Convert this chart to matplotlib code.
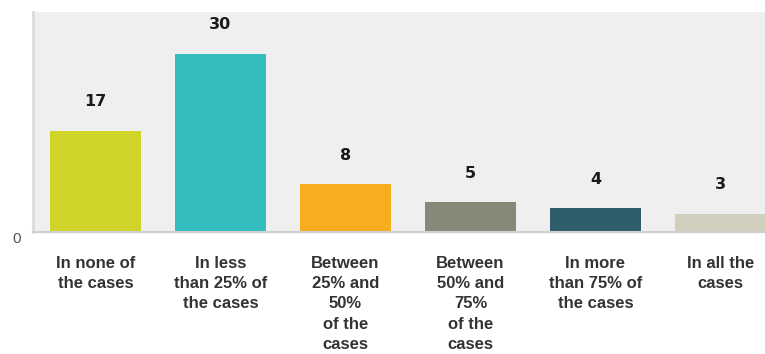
import matplotlib.pyplot as plt

# Chart data
categories = ["In none of\nthe cases", "In less\nthan 25% of\nthe cases",
              "Between\n25% and\n50%\nof the\ncases", "Between\n50% and\n75%\nof the\ncases",
              "In more\nthan 75% of\nthe cases", "In all the\ncases"]
values = [17, 30, 8, 5, 4, 3]
colors = ["#cfd42a", "#33bdbe", "#f6ad1f", "#878877", "#2e5d6b", "#d1cfbe"]

fig = plt.figure(figsize=(7.65, 3.54), dpi=100)
# axes deliberately runs past the right edge, like the reference
ax = fig.add_axes([33 / 765, 1 - 232 / 354, 750 / 765, 220 / 354])
ax.set_facecolor("#efefef")

x = list(range(len(values)))
ax.bar(x, values, width=0.728, color=colors)
for xi, v in zip(x, values):
    ax.annotate(str(v), (xi, v), xytext=(0, 21), textcoords="offset points",
                ha="center", va="center", fontsize=11.5, fontweight="bold", color="#1a1a1a")

ax.set_xlim(-0.5, 5.5)
ax.set_ylim(0, 37)
ax.set_xticks(x)
ax.set_xticklabels(categories, fontfamily="Liberation Sans", fontweight="bold",
                   fontsize=12, color="#333333", linespacing=1.45)
ax.tick_params(axis="x", length=0, pad=17)
ax.set_yticks([0])
ax.set_yticklabels(["0"], fontfamily="Liberation Sans", fontsize=11, color="#555555")
ax.tick_params(axis="y", length=0, pad=8.5)
for lbl in ax.get_yticklabels():
    lbl.set_va("top")

for s in ["top", "right"]:
    ax.spines[s].set_visible(False)
ax.spines["left"].set_color("#dcdcdc")
ax.spines["left"].set_linewidth(2)
ax.spines["bottom"].set_color("#d0d0d0")
ax.spines["bottom"].set_linewidth(1.5)

fig.savefig("out.png", dpi=100, facecolor="white")
